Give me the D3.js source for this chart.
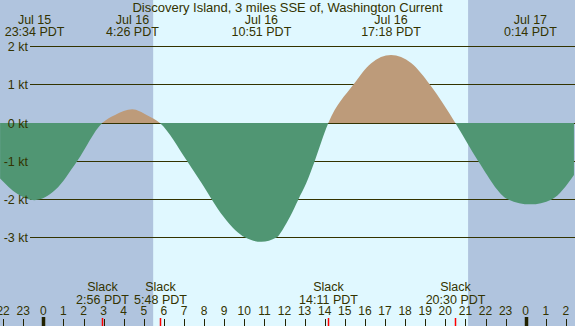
<!DOCTYPE html>
<html>
<head>
<meta charset="utf-8">
<script src="https://cdn.jsdelivr.net/npm/d3@7"></script>
<style>
  html, body { margin: 0; padding: 0; background: #fff; }
  svg { display: block; }
  text { font-family: "Liberation Sans", Arial, sans-serif; fill: #333300; }
</style>
</head>
<body>
<svg id="chart"></svg>
<script>
var title = "Discovery Island, 3 miles SSE of, Washington Current";

// current readings taken off the plot (hours from Jul 16 0:00, knots)
var curveHours = [-2.15, -1.3, -0.43, 0.6, 1.68, 2.93, 3.57, 4.43, 5.14, 5.8, 7.16, 7.88, 8.38, 8.96, 9.54, 10.05, 10.85, 11.6, 11.9, 12.28, 12.69, 13.08, 13.5, 14.18, 15.42, 16.3, 17.3, 18.3, 19.24, 20.5, 21.64, 23.13, 24.23, 25.29, 26.4];
var curveKnots = [-1.45, -1.85, -2.02, -1.75, -1.0, 0, 0.21, 0.36, 0.21, 0, -1.0, -1.58, -2.0, -2.45, -2.8, -3.0, -3.11, -3.0, -2.8, -2.45, -2.0, -1.58, -1.0, 0, 1.0, 1.56, 1.78, 1.57, 1.0, 0, -1.0, -2.0, -2.13, -2.0, -1.36];

var extremeDates = ["Jul 15", "Jul 16", "Jul 16", "Jul 16", "Jul 17"];
var extremeTimes = ["23:34 PDT", "4:26 PDT", "10:51 PDT", "17:18 PDT", "0:14 PDT"];

var slackTimes = ["2:56 PDT", "5:48 PDT", "14:11 PDT", "20:30 PDT"];

var sunrise = "5:28", sunset = "21:08";
var knotTicks = [2, 1, 0, -1, -2, -3];
var hourTicks = d3.range(-2, 27);

var width = 575, height = 326;

function toHour(t, date) {
  var p = t.split(" ")[0].split(":");
  var day = date ? +date.split(" ")[1] - 16 : 0;
  return day * 24 + (+p[0]) + (+p[1]) / 60;
}

var x = d3.scaleLinear().domain([0, 24]).range([43.3, 525.7]);
var y = d3.scaleLinear().domain([-3, 2]).range([237.6, 46.6]);
var y0 = Math.floor(y(0));

var svg = d3.select("#chart").attr("width", width).attr("height", height);

// night / day background
svg.append("rect").attr("width", width).attr("height", height).attr("fill", "#b0c4de");
svg.append("rect")
   .attr("x", x(toHour(sunrise)))
   .attr("width", x(toHour(sunset)) - x(toHour(sunrise)))
   .attr("height", height)
   .attr("fill", "#e0f8ff");

// knot grid
svg.selectAll(".grid")
   .data(knotTicks)
   .enter().append("line")
   .attr("x1", 30).attr("x2", width)
   .attr("y1", function(d) { return Math.floor(y(d)) + 0.5; })
   .attr("y2", function(d) { return Math.floor(y(d)) + 0.5; })
   .attr("stroke", "#333300")
   .attr("stroke-width", 1);

var points = curveHours.map(function(h, i) { return [h, curveKnots[i]]; });
var area = d3.area()
             .x(function(d) { return x(d[0]); })
             .y0(y0)
             .y1(function(d) { return y(d[1]); })
             .curve(d3.curveMonotoneX);

var defs = svg.append("defs");
defs.append("clipPath").attr("id", "above")
    .append("rect").attr("width", width).attr("height", y0);
defs.append("clipPath").attr("id", "below")
    .append("rect").attr("y", y0).attr("width", width).attr("height", height - y0);

svg.append("path").datum(points).attr("d", area)
   .attr("fill", "#bd9b7a").attr("clip-path", "url(#above)");
svg.append("path").datum(points).attr("d", area)
   .attr("fill", "#509673").attr("clip-path", "url(#below)");

svg.selectAll(".klabel")
   .data(knotTicks)
   .enter().append("text")
   .attr("x", 28)
   .attr("y", function(d) { return y(d) + 4.5; })
   .attr("text-anchor", "end")
   .style("font-size", "12.5px")
   .text(function(d) { return d + " kt"; });

// title and extreme labels
svg.append("text").attr("x", width / 2).attr("y", 11.5)
   .attr("text-anchor", "middle").style("font-size", "13px").text(title);

var ext = svg.selectAll(".ext")
             .data(extremeTimes)
             .enter().append("g")
             .attr("transform", function(d, i) { return "translate(" + x(toHour(d, extremeDates[i])) + ",0)"; });
ext.append("text").attr("y", 24).attr("text-anchor", "middle").style("font-size", "12.5px")
   .text(function(d, i) { return extremeDates[i]; });
ext.append("text").attr("y", 36).attr("text-anchor", "middle").style("font-size", "12.5px")
   .text(function(d) { return d; });

// hour axis
svg.selectAll(".htick")
   .data(hourTicks)
   .enter().append("line")
   .attr("x1", function(d) { return Math.round(x(d)) + 0.5; })
   .attr("x2", function(d) { return Math.round(x(d)) + 0.5; })
   .attr("y1", function(d) { return d % 24 === 0 ? 317 : 319; })
   .attr("y2", height)
   .attr("stroke", "#222200")
   .attr("stroke-width", function(d) { return d % 24 === 0 ? 3.5 : 1; });

svg.selectAll(".hlabel")
   .data(hourTicks)
   .enter().append("text")
   .attr("x", function(d) { return x(d); })
   .attr("y", 315)
   .attr("text-anchor", "middle")
   .style("font-size", "12px")
   .text(function(d) { return ((d % 24) + 24) % 24; });

// slack water
var slack = svg.selectAll(".slack")
               .data(slackTimes)
               .enter().append("g")
               .attr("transform", function(d) { return "translate(" + (Math.round(x(toHour(d))) + 0.5) + ",0)"; });
slack.append("line").attr("x1", 0).attr("x2", 0).attr("y1", 318).attr("y2", height)
     .attr("stroke", "#ff0000").attr("stroke-width", 1.5);
slack.append("text").attr("y", 291).attr("text-anchor", "middle").style("font-size", "12.5px").text("Slack");
slack.append("text").attr("y", 303.5).attr("text-anchor", "middle").style("font-size", "12.5px")
     .text(function(d) { return d; });
</script>
</body>
</html>
